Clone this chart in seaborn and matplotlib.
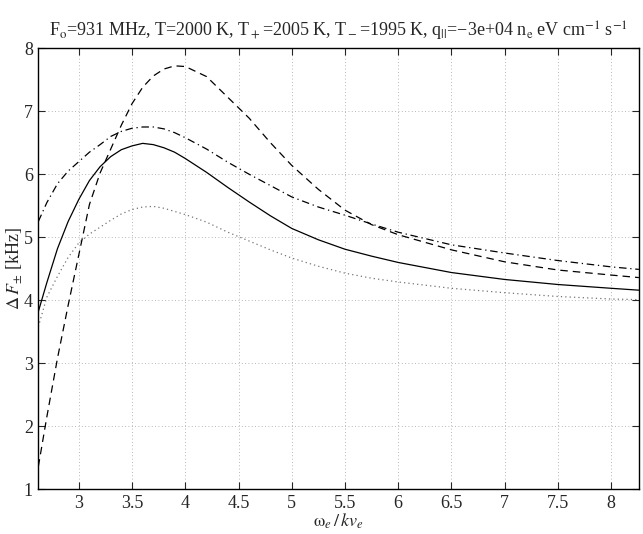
import numpy as np
import pandas as pd
import matplotlib
matplotlib.use("Agg")
import matplotlib.pyplot as plt
import seaborn as sns

# x grid (omega_e / k v_e) and the four curves
x_vals = [2.62, 2.7, 2.8, 2.9, 3.0, 3.1, 3.2, 3.3, 3.4, 3.5, 3.6, 3.7, 3.8, 3.9,
          4.0, 4.2, 4.4, 4.6, 4.8, 5.0, 5.25, 5.5, 5.75, 6.0, 6.5, 7.0, 7.5, 8.0, 8.26]

solid_vals = [3.82, 4.28, 4.82, 5.25, 5.60, 5.90, 6.12, 6.28, 6.39, 6.45, 6.49, 6.47,
              6.42, 6.35, 6.25, 6.03, 5.79, 5.56, 5.34, 5.14, 4.96, 4.81, 4.70, 4.60,
              4.44, 4.33, 4.25, 4.19, 4.16]

dotted_vals = [3.58, 4.05, 4.38, 4.68, 4.91, 5.05, 5.16, 5.27, 5.37, 5.44, 5.48, 5.49,
               5.46, 5.41, 5.36, 5.24, 5.08, 4.94, 4.80, 4.67, 4.54, 4.43, 4.35, 4.29,
               4.19, 4.12, 4.06, 4.02, 4.01]

dashed_vals = [1.36, 2.15, 3.08, 3.92, 4.72, 5.52, 6.02, 6.40, 6.78, 7.12, 7.38, 7.56,
               7.67, 7.72, 7.71, 7.55, 7.22, 6.89, 6.50, 6.14, 5.76, 5.43, 5.20, 5.04,
               4.80, 4.61, 4.48, 4.40, 4.36]

dashdot_vals = [5.25, 5.55, 5.85, 6.05, 6.20, 6.35, 6.47, 6.60, 6.68, 6.73, 6.75, 6.75,
                6.72, 6.66, 6.58, 6.40, 6.19, 6.00, 5.82, 5.64, 5.48, 5.35, 5.21, 5.08,
                4.88, 4.75, 4.63, 4.53, 4.49]

x_ticks = [3, 3.5, 4, 4.5, 5, 5.5, 6, 6.5, 7, 7.5, 8]
y_ticks = [1, 2, 3, 4, 5, 6, 7, 8]

sns.set_style("ticks")
plt.rcParams['font.family'] = ['Liberation Serif', 'DejaVu Serif']
plt.rcParams['mathtext.fontset'] = 'stix'

fig = plt.figure(figsize=(6.43, 5.34), dpi=100)
ax = fig.add_axes([0.0596, 0.0837, 0.934, 0.826])

df = pd.DataFrame({"x": x_vals, "solid": solid_vals, "dotted": dotted_vals,
                   "dashed": dashed_vals, "dashdot": dashdot_vals})

styles = {
    "solid": "-",
    "dotted": (0, (1, 2.5)),
    "dashed": (0, (6, 4)),
    "dashdot": (0, (6, 3, 1, 3)),
}
for name, ls in styles.items():
    sns.lineplot(data=df, x="x", y=name, ax=ax, color="black", linewidth=0.9,
                 linestyle=ls, alpha=0.55 if name == "dotted" else 1.0)

ax.set_xlim(2.62, 8.26)
ax.set_ylim(1, 8)
ax.set_xticks(x_ticks)
ax.set_xticklabels([f"{t:g}" for t in x_ticks])
ax.set_yticks(y_ticks)
ax.grid(True, color="#a0a0a0", linestyle=(0, (1, 3)), linewidth=0.6)
ax.tick_params(direction="in", top=True, right=True, length=5, width=0.8,
               labelsize=13, pad=4)
for s in ax.spines.values():
    s.set_linewidth(1.0)
    s.set_color("black")

ax.set_xlabel(r"$\mathrm{\omega}_e\,/\,kv_e$", fontsize=13, labelpad=0)
ax.set_ylabel(r"$\Delta\,F_{\pm}$ [kHz]", fontsize=13, labelpad=0)
ax.set_title(r"F$_\mathrm{o}$=931 MHz, T=2000 K, T$_+$=2005 K, T$_-$=1995 K, "
             r"q$_{||}$=−3e+04 n$_\mathrm{e}$ eV cm$^{-1}$ s$^{-1}$",
             fontsize=13, pad=8)

fig.savefig("out.png", dpi=100)
